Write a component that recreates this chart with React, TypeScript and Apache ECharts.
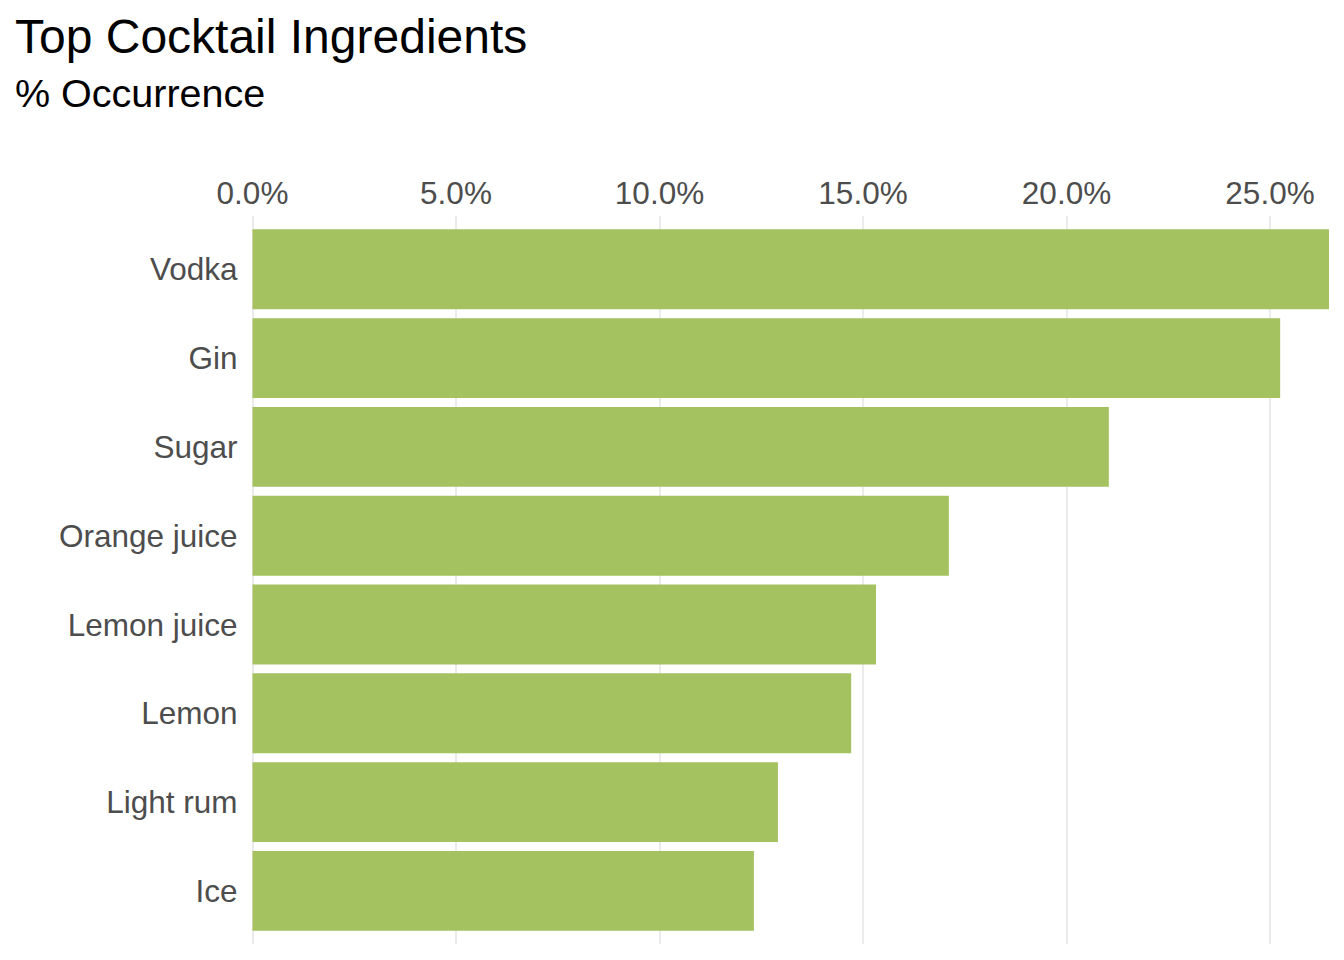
import React, { useEffect, useRef } from "react";
import * as echarts from "echarts";

const categories = ["Vodka", "Gin", "Sugar", "Orange juice", "Lemon juice", "Lemon", "Light rum", "Ice"];
const values = [26.45, 25.25, 21.04, 17.11, 15.32, 14.71, 12.91, 12.32];
const tickMax = 25;
const tickInterval = 5;

const FONT = "'Liberation Sans', Arial, sans-serif";

export default function App() {
  const ref = useRef<HTMLDivElement>(null);
  useEffect(() => {
    if (!ref.current) return;
    const chart = echarts.init(ref.current, undefined, { renderer: "svg" });
    chart.setOption({
      animation: false,
      backgroundColor: "#ffffff",
      title: [
        {
          text: "Top Cocktail Ingredients",
          left: 10,
          top: 7,
          textStyle: { fontFamily: FONT, fontSize: 48, fontWeight: "normal", color: "#000000" },
        },
        {
          text: "% Occurrence",
          left: 10,
          top: 68,
          textStyle: { fontFamily: FONT, fontSize: 39.5, fontWeight: "normal", color: "#000000" },
        },
      ],
      grid: [
        { left: 252.5, top: 216, width: 1017.5, height: 728, containLabel: false },
        { left: 252.5, top: 224.9, width: 1076.5, height: 710.4, containLabel: false },
      ],
      xAxis: [
        {
          type: "value",
          gridIndex: 0,
          position: "top",
          min: 0,
          max: tickMax,
          interval: tickInterval,
          axisLine: { show: false },
          axisTick: { show: false },
          axisLabel: {
            margin: 7,
            fontFamily: FONT,
            fontSize: 31.5,
            color: "#4D4D4D",
            formatter: (v: number) => v.toFixed(1) + "%",
          },
          splitLine: { show: true, lineStyle: { color: "#E6E6E6", width: 1.6 } },
        },
        {
          type: "value",
          gridIndex: 1,
          min: 0,
          max: "dataMax",
          show: false,
          splitLine: { show: false },
        },
      ],
      yAxis: [
        {
          type: "category",
          gridIndex: 0,
          show: false,
          data: categories,
        },
        {
          type: "category",
          gridIndex: 1,
          data: categories,
          inverse: true,
          axisLine: { show: false },
          axisTick: { show: false },
          axisLabel: {
            margin: 15,
            padding: [4, 0, 0, 0],
            fontFamily: FONT,
            fontSize: 31.5,
            color: "#4D4D4D",
          },
        },
      ],
      series: [
        {
          type: "bar",
          xAxisIndex: 1,
          yAxisIndex: 1,
          data: values,
          barCategoryGap: "10%",
          itemStyle: { color: "#A5C261" },
        },
      ],
    });
    return () => chart.dispose();
  }, []);
  return (
    <div
      ref={ref}
      style={{ position: "fixed", left: 0, top: 0, width: 1344, height: 960 }}
    />
  );
}
